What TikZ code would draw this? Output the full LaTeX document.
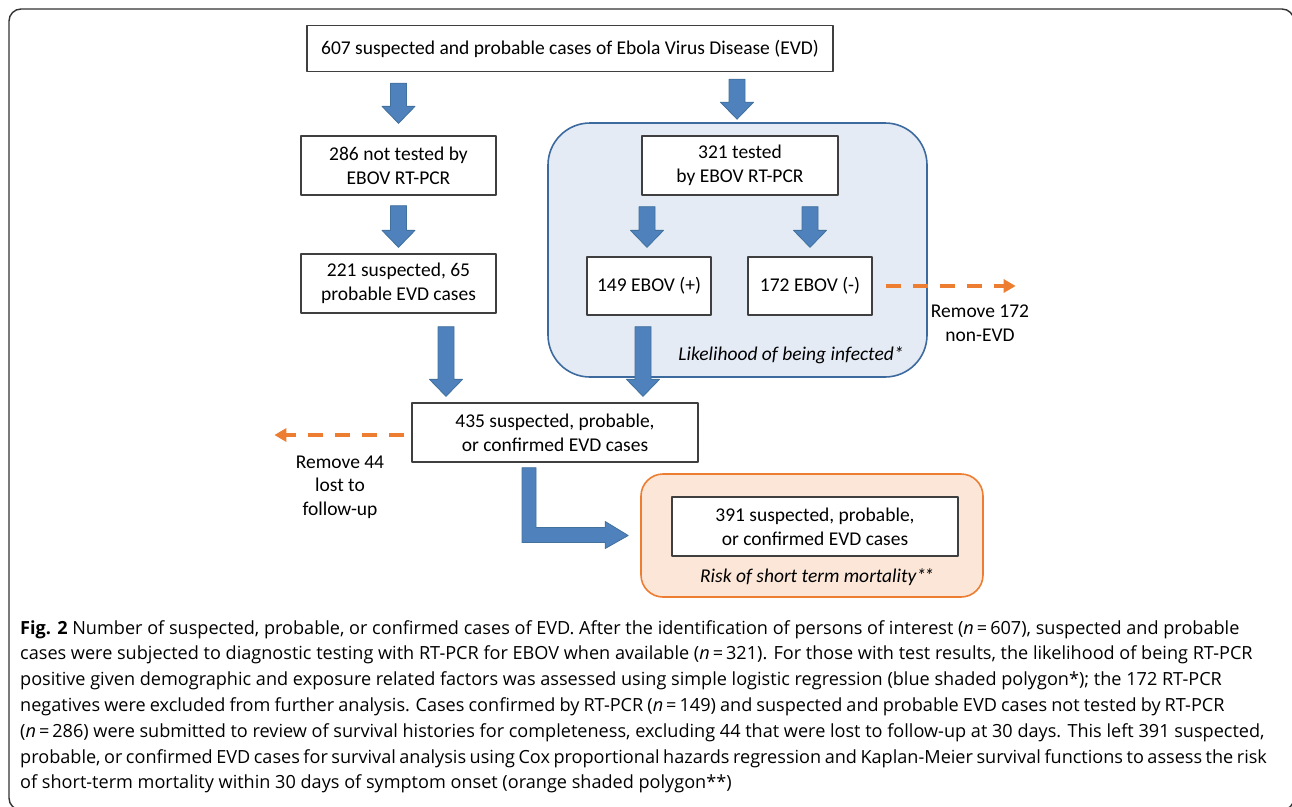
\documentclass[tikz,border=0pt]{standalone}
\usepackage{fontspec}
\setmainfont{Carlito}
\newfontfamily\capfont{Open Sans}
\usetikzlibrary{calc,arrows.meta}
\definecolor{arrblue}{HTML}{4F81BD}
\definecolor{arredge}{HTML}{41719C}
\definecolor{regblue}{HTML}{E4EBF5}
\definecolor{regbluedge}{HTML}{3D6A9E}
\definecolor{regorange}{HTML}{FBE6D7}
\definecolor{regorangedge}{HTML}{ED7D31}
\definecolor{boxedge}{HTML}{3F3F3F}
\newcommand\blkdown[2]{\filldraw[blk] let \p1=(#1),\p2=(#2) in
  (\x1-8pt,\y1)--(\x1+8pt,\y1)--(\x1+8pt,\y2+17pt)--(\x1+16.5pt,\y2+17pt)--(\x1,\y2)
  --(\x1-16.5pt,\y2+17pt)--(\x1-8pt,\y2+17pt)--cycle;}
\begin{document}
\begin{tikzpicture}[x=1pt,y=-1pt,line join=round,
  casebox/.style={draw=boxedge,line width=1.3pt,fill=white,align=center,inner sep=0pt,font=\fontsize{19.5}{24}\selectfont},
  regionbox/.style={line width=1.6pt,inner sep=0pt},
  blk/.style={fill=arrblue,draw=arredge,line width=0.8pt},
  removed/.style={draw=regorangedge,line width=4pt,dash pattern=on 15pt off 12pt,-{Triangle[length=12pt,width=13pt]}},
  lbl/.style={align=center,inner sep=0pt,font=\fontsize{19.5}{23.5}\selectfont}]
\useasboundingbox (0,0) rectangle (1292,806);
\draw[line width=1.4pt,draw=black!80,rounded corners=12pt] (9,9) rectangle (1294,810);
\node[regionbox,draw=regbluedge,fill=regblue,rounded corners=42pt,minimum width=379pt,minimum height=254pt] (infreg) at (737.5,250) {};
\node[regionbox,draw=regorangedge,fill=regorange,rounded corners=22pt,minimum width=342pt,minimum height=123pt] (mortreg) at (812,535.5) {};
\node[casebox,minimum width=526pt,minimum height=46pt] (b607) at (570,48.5) {607 suspected and probable cases of Ebola Virus Disease (EVD)};
\node[casebox,minimum width=195pt,minimum height=59pt] (b286) at (398.5,165.5) {286 not tested by\\EBOV RT-PCR};
\node[casebox,minimum width=195pt,minimum height=59pt] (b221) at (398.5,283.5) {221 suspected, 65\\probable EVD cases};
\node[casebox,minimum width=196pt,minimum height=59pt] (b321) at (740,165.5) {321 tested\\by EBOV RT-PCR};
\node[casebox,minimum width=124pt,minimum height=58pt] (b149) at (649,286) {149 EBOV (+)};
\node[casebox,minimum width=124pt,minimum height=58pt] (b172) at (810,286) {172 EBOV (-)};
\node[lbl,font=\fontsize{19.5}{23.5}\selectfont\itshape] (inflbl) at (791,355) {Likelihood of being infected*};
\node[casebox,minimum width=286pt,minimum height=59pt] (b435) at (555,432.5) {435 suspected, probable,\\or confirmed EVD cases};
\node[casebox,minimum width=286pt,minimum height=59pt] (b391) at (815,526.5) {391 suspected, probable,\\or confirmed EVD cases};
\node[lbl,font=\fontsize{19.5}{23.5}\selectfont\itshape] (mortlbl) at (817,577) {Risk of short term mortality*\kern-2pt*};
\node[lbl] (rm172) at (980,323) {Remove 172\\non-EVD};
\node[lbl] (rm44) at (340,487) {Remove 44\\lost to\\follow-up};
\blkdown{$(b607.south-|b286.north)+(0,11)$}{$(b286.north)+(0,-12)$}
\blkdown{$(b607.south-|b321.north)+(-3,7)$}{$(infreg.north)+(0,-3)$}
\blkdown{$(b286.south)+(0,10)$}{$(b221.north)+(0,-6)$}
\blkdown{$(b321.south-|b149.north)+(-2,11)$}{$(b149.north)+(0,-9)$}
\blkdown{$(b321.south-|b172.north)+(0,11)$}{$(b172.north)+(0,-9)$}
\blkdown{$(b221.south)+(47.5,13)$}{$(b435.north)+(0,-6)$}
\blkdown{$(b149.south)+(-6,11)$}{$(b435.north)+(0,-6)$}
\filldraw[blk] let \p1=($(b435.south)+(-26,5)$),\p2=($(mortreg.west)+(-12,0)$) in
  (\x1-7pt,\y1)--(\x1+7pt,\y1)--(\x1+7pt,\y2+8pt)--(\x2-23pt,\y2+8pt)--(\x2-23pt,\y2+14pt)--(\x2,\y2)
  --(\x2-23pt,\y2-13pt)--(\x2-23pt,\y2-7pt)--(\x1-7pt,\y2-7pt)--cycle;
\draw[removed] ($(b172.east)+(13,0)$) -- ($(b172.east)+(143,0)$);
\draw[removed] ($(b435.west)+(-7,2.5)$) -- ($(b435.west)+(-137,2.5)$);
\node[anchor=north west,align=left,inner sep=0pt,font=\capfont\fontsize{18.1}{25.8}\selectfont] (cap) at (20,620) {%
\textbf{Fig. 2} Number of suspected, probable, or confirmed cases of EVD. After the identification of persons of interest (\textit{n}\,=\,607), suspected and probable\\
cases were subjected to diagnostic testing with RT-PCR for EBOV when available (\textit{n}\,=\,321). For those with test results, the likelihood of being RT-PCR\\
positive given demographic and exposure related factors was assessed using simple logistic regression (blue shaded polygon*); the 172 RT-PCR\\
{\spaceskip=4.1pt negatives were excluded from further analysis. Cases confirmed by RT-PCR (\textit{n}\,=\,149) and suspected and probable EVD cases not tested by RT-PCR}\\
(\textit{n}\,=\,286) were submitted to review of survival histories for completeness, excluding 44 that were lost to follow-up at 30 days. This left 391 suspected,\\
{\spaceskip=3.5pt probable, or confirmed EVD cases for survival analysis using Cox proportional hazards regression and Kaplan-Meier survival functions to assess the risk}\\
of short-term mortality within 30 days of symptom onset (orange shaded polygon**)};
\end{tikzpicture}
\end{document}
